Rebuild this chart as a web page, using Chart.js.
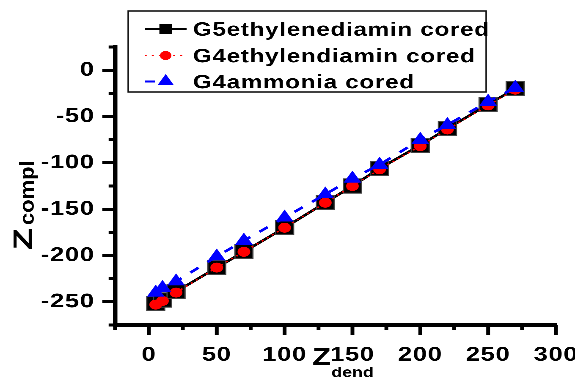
<!DOCTYPE html>
<html lang="en">
<head>
<meta charset="UTF-8">
<title>Zcompl vs Zdend</title>
<script src="https://cdn.jsdelivr.net/npm/chart.js@4.4.2/dist/chart.umd.min.js"></script>
<style>
    body {
        margin: 0;
        background: #fff;
    }
    /* plot is laid out narrow and widened, so glyphs and markers come out broad */
    #wrap {
        width: 453px;
        height: 378px;
        transform: scaleX(1.2693);
        transform-origin: 0 0;
    }
</style>
</head>
<body>
<div id="wrap"><canvas id="graph"></canvas></div>
<script>
    const zDend = [5, 10, 20, 50, 70, 100, 130, 150, 170, 200, 220, 250, 270];
    const g5Ethylenediamin = [-252, -248, -239, -213, -196, -170, -143, -125, -106, -81, -63, -37, -20];
    const g4Ethylendiamin = [-253, -249, -240, -213, -196, -170, -143, -125, -107, -82, -64, -38, -21];
    const g4Ammonia = [-240, -235, -228, -201, -184, -159, -134, -117, -102, -75, -59, -34, -19];
    const seriesNames = ['G5ethylenediamin cored', 'G4ethylendiamin cored', 'G4ammonia cored'];
    const xTickLabels = [0, 50, 100, 150, 200, 250, 300];
    const yTickLabels = [-250, -200, -150, -100, -50, 0];

    const FONT = "'Liberation Sans', Arial, sans-serif";

    function points(ys) {
        return zDend.map((x, i) => ({ x: x, y: ys[i] }));
    }

    function marker(ctx, style, x, y, r) {
        ctx.beginPath();
        if (style === 'rect') {
            const s = r * Math.SQRT1_2;
            ctx.rect(x - s, y - s, 2 * s, 2 * s);
        } else if (style === 'triangle') {
            let a = 0;
            ctx.moveTo(x + Math.sin(a) * r, y - Math.cos(a) * r);
            a += 2 * Math.PI / 3;
            ctx.lineTo(x + Math.sin(a) * r, y - Math.cos(a) * r);
            a += 2 * Math.PI / 3;
            ctx.lineTo(x + Math.sin(a) * r, y - Math.cos(a) * r);
            ctx.closePath();
        } else {
            ctx.arc(x, y, r, 0, 2 * Math.PI);
        }
        ctx.fill();
    }

    // ticks, axis titles and the framed legend
    const decor = {
        id: 'decor',
        beforeDraw(chart) {
            // slightly loose digits on the axes
            chart.ctx.letterSpacing = '0.6px';
        },
        afterDraw(chart) {
            const { ctx, chartArea, scales } = chart;
            ctx.save();
            ctx.letterSpacing = '0px';

            ctx.strokeStyle = '#000';
            ctx.lineWidth = 3;
            scales.x.ticks.forEach(t => {
                const px = scales.x.getPixelForValue(t.value);
                const len = xTickLabels.includes(t.value) ? 10 : 5;
                ctx.beginPath();
                ctx.moveTo(px, chartArea.bottom);
                ctx.lineTo(px, chartArea.bottom + len);
                ctx.stroke();
            });
            scales.y.ticks.forEach(t => {
                const py = scales.y.getPixelForValue(t.value);
                const len = yTickLabels.includes(t.value) ? 10 : 5;
                ctx.beginPath();
                ctx.moveTo(chartArea.left, py);
                ctx.lineTo(chartArea.left - len, py);
                ctx.stroke();
            });

            // x title: Z with subscript
            ctx.fillStyle = '#000';
            ctx.textBaseline = 'alphabetic';
            ctx.textAlign = 'left';
            ctx.font = 'bold 24px ' + FONT;
            ctx.fillText('Z', 246, 365);
            ctx.font = 'bold 14px ' + FONT;
            ctx.fillText('dend', 261, 377);

            // y title, rotated and drawn tall
            ctx.save();
            ctx.translate(25, 250);
            ctx.rotate(-Math.PI / 2);
            ctx.save();
            ctx.scale(1.7, 1);
            ctx.font = 'bold 21px ' + FONT;
            ctx.fillText('Z', 0, 0);
            ctx.restore();
            ctx.save();
            ctx.translate(25, 1.5);
            ctx.scale(1.37, 1);
            ctx.font = 'bold 16px ' + FONT;
            ctx.fillText('compl', 0, 0);
            ctx.restore();
            ctx.restore();

            // legend
            const box = { left: 101, top: 11, right: 383, bottom: 92 };
            ctx.fillStyle = '#fff';
            ctx.fillRect(box.left, box.top, box.right - box.left, box.bottom - box.top);
            ctx.strokeStyle = '#111';
            ctx.lineWidth = 1.2;
            ctx.strokeRect(box.left, box.top, box.right - box.left, box.bottom - box.top);

            const rows = [29, 55.5, 81.5];
            chart.data.datasets.forEach((ds, i) => {
                const y = rows[i];
                ctx.save();
                ctx.strokeStyle = ds.borderColor;
                ctx.lineWidth = ds.legendLineWidth;
                ctx.setLineDash(ds.legendDash || []);
                ctx.beginPath();
                ctx.moveTo(114, y);
                ctx.lineTo(147, y);
                ctx.stroke();
                ctx.restore();
                ctx.fillStyle = ds.pointBackgroundColor;
                marker(ctx, ds.pointStyle, 130.5, y, ds.legendRadius);
                ctx.fillStyle = '#000';
                ctx.font = 'bold 19px ' + FONT;
                ctx.letterSpacing = '0.6px';
                ctx.fillText(seriesNames[i], 152, y + 6.8);
                ctx.letterSpacing = '0px';
            });

            ctx.restore();
        }
    };

    const ctx = document.getElementById('graph').getContext('2d');
    new Chart(ctx, {
        type: 'line',
        data: {
            datasets: [
                {
                    label: seriesNames[0],
                    data: points(g5Ethylenediamin),
                    order: 3,
                    borderColor: '#000',
                    borderWidth: 2.5,
                    pointStyle: 'rect',
                    pointRadius: 10,
                    pointBackgroundColor: '#000',
                    pointBorderColor: '#444',
                    pointBorderWidth: 1,
                    legendRadius: 7,
                    legendLineWidth: 2.5
                },
                {
                    label: seriesNames[1],
                    data: points(g4Ethylendiamin),
                    order: 2,
                    borderColor: '#ff0000',
                    borderWidth: 1.5,
                    borderDash: [1.5, 3.5],
                    pointStyle: 'circle',
                    pointRadius: 5,
                    pointBackgroundColor: '#ff0000',
                    pointBorderColor: '#ff0000',
                    pointBorderWidth: 0,
                    legendRadius: 4.5,
                    legendLineWidth: 1.6,
                    legendDash: [1.6, 4]
                },
                {
                    label: seriesNames[2],
                    data: points(g4Ammonia),
                    order: 1,
                    borderColor: '#0000ff',
                    borderWidth: 2.5,
                    borderDash: [8, 9],
                    pointStyle: 'triangle',
                    pointRadius: 8,
                    pointBackgroundColor: '#0000ff',
                    pointBorderColor: '#0000ff',
                    pointBorderWidth: 0,
                    legendRadius: 7.5,
                    legendLineWidth: 2,
                    legendDash: [8, 25]
                }
            ]
        },
        options: {
            responsive: true,
            maintainAspectRatio: false,
            animation: false,
            devicePixelRatio: 3,
            events: [],
            layout: { padding: { top: 47, right: 15, bottom: 0, left: 0 } },
            plugins: {
                legend: { display: false },
                tooltip: { enabled: false }
            },
            scales: {
                x: {
                    type: 'linear',
                    min: -25,
                    max: 300,
                    border: { display: true, color: '#000', width: 3.5 },
                    grid: { display: true, drawOnChartArea: false, drawTicks: true, tickLength: 10, tickColor: 'rgba(0,0,0,0)' },
                    ticks: {
                        stepSize: 25,
                        autoSkip: false,
                        maxRotation: 0,
                        padding: 8,
                        color: '#000',
                        font: { family: FONT, size: 20, weight: 'bold' },
                        callback: v => xTickLabels.includes(v) ? String(v) : ''
                    },
                    afterFit(scale) {
                        scale.height = 53;
                        scale.paddingLeft = 0;
                        scale.paddingRight = 0;
                    }
                },
                y: {
                    type: 'linear',
                    min: -275,
                    max: 25,
                    border: { display: true, color: '#000', width: 3.5 },
                    grid: { display: true, drawOnChartArea: false, drawTicks: true, tickLength: 10, tickColor: 'rgba(0,0,0,0)' },
                    ticks: {
                        stepSize: 25,
                        autoSkip: false,
                        padding: 6,
                        color: '#000',
                        font: { family: FONT, size: 20, weight: 'bold' },
                        callback: v => yTickLabels.includes(v) ? String(v) : ''
                    },
                    afterFit(scale) {
                        scale.width = 90.6;
                        scale.paddingTop = 0;
                        scale.paddingBottom = 0;
                    }
                }
            }
        },
        plugins: [decor]
    });
</script>
</body>
</html>
